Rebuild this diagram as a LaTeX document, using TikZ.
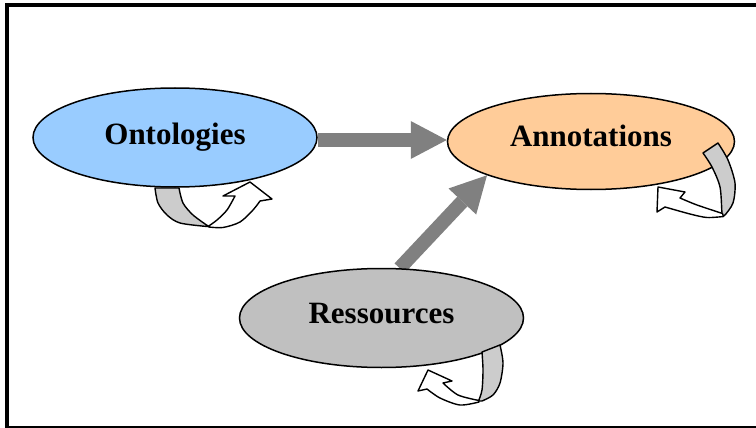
\documentclass[tikz,border=0pt]{standalone}
\usepackage{fontspec}
\setmainfont{Liberation Serif}
\usetikzlibrary{arrows.meta,shapes.geometric}
\pgfdeclarelayer{back}
\pgfsetlayers{back,main}
\definecolor{ontoblue}{RGB}{153,204,255}
\definecolor{annoorange}{RGB}{255,204,153}
\definecolor{resgray}{RGB}{192,192,192}
\definecolor{arrowgray}{RGB}{128,128,128}
\definecolor{bandgray}{RGB}{204,204,204}
\tikzset{
  concept/.style={ellipse, draw=black, line width=1.5pt, minimum width=284pt,
    minimum height=99pt, inner sep=0pt, text height=22pt, text depth=7pt,
    font=\fontsize{31}{36}\selectfont\bfseries},
  blockarrow/.style={draw=arrowgray, line width=14pt,
    -{Triangle[width=38pt,length=36pt,line width=0pt]}},
  band/.style={fill=bandgray, draw=black, line width=1.4pt, line join=round},
  loopfront/.style={fill=white, draw=black, line width=1.4pt, line join=round},
  frame/.style={draw=black, line width=4pt}
}
\begin{document}
\begin{tikzpicture}[x=1pt,y=-1pt]
  \useasboundingbox (0,0) rectangle (756,428);

  % the three concepts
  \node[concept, fill=ontoblue] (onto) at (175,137.5) {Ontologies};
  \node[concept, fill=annoorange, minimum width=287pt, minimum height=96pt, text depth=12pt] (anno) at (591,141.5) {Annotations};
  \node[concept, fill=resgray, text depth=12pt] (res) at (381.5,318) {Ressources};

  \begin{pgfonlayer}{back}
    \draw[frame] (7,5) rectangle (762,427.5);
    \coordinate (hline) at (0,140);
    \draw[blockarrow] (onto.east |- hline) -- (anno.west |- hline);
    \draw[blockarrow] (res.70) -- (anno.198);
  \end{pgfonlayer}

  % self loop under Ontologies
  \filldraw[band] plot[smooth] coordinates {(155,188) (158,203) (167,215) (180,223) (207,226.5)}
    -- plot[smooth] coordinates {(208,226) (193,215) (183,203) (179,188)} -- cycle;
  \filldraw[loopfront] plot[smooth] coordinates {(208,226.5) (217,220) (227,210) (235,196)}
    -- (223,196) -- (250,182) -- (272,199)
    -- plot[smooth] coordinates {(260,201) (253,210) (240,222) (223,227.5) (209,227)} -- cycle;

  % self loop on Annotations
  \filldraw[band] plot[smooth] coordinates {(703,153) (712,167) (720,187) (722,213) (723.5,216)}
    -- plot[smooth] coordinates {(725,215) (733,203) (735,183) (728,160) (718,143)} -- cycle;
  \filldraw[loopfront] plot[smooth] coordinates {(723.5,216.5) (707,217.5) (690,214) (665,207)}
    -- (657,212) -- (658,187) -- (685,192)
    -- plot[smooth] coordinates {(680,198) (697,205) (722.5,213.5)} -- cycle;

  % self loop on Ressources
  \filldraw[band] plot[smooth] coordinates {(482,352) (483,370) (482,390) (478.5,401)}
    -- plot[smooth] coordinates {(482,401) (493,395) (500,383) (503,363) (500,345)} -- cycle;
  \filldraw[loopfront] plot[smooth] coordinates {(479,402) (460,405) (440,398) (427,389)}
    -- (418,391) -- (428,370) -- (452,381)
    -- plot[smooth] coordinates {(443,383) (458,395) (479,400.5)} -- cycle;
\end{tikzpicture}
\end{document}
